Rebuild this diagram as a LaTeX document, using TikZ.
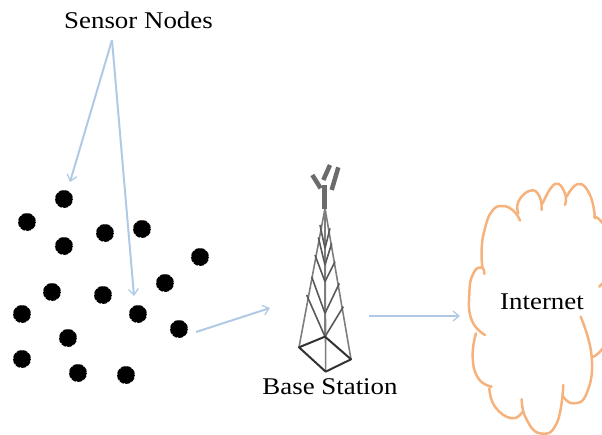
\documentclass[tikz,border=0pt]{standalone}
\usepackage{fontspec}
\setmainfont{Liberation Serif}
\usetikzlibrary{arrows.meta}
\definecolor{lnk}{RGB}{176,202,230}
\definecolor{cld}{RGB}{246,178,124}
\definecolor{twr}{RGB}{70,70,70}
\tikzset{
  x=1pt,y=-1pt,
  sensordot/.style={circle,fill=black,draw=white,line width=0.8pt,dash pattern=on 1.2pt off 5.5pt,inner sep=0pt,minimum size=18pt},
  lnkarrow/.style={draw=lnk,line width=2pt,-{Straight Barb[length=6pt,width=10pt,line width=1.3pt]}},
  lbl/.style={inner sep=0pt,font=\fontsize{24}{26}\selectfont,xscale=1.12},
  cloudline/.style={draw=cld,line width=2.5pt,line cap=round,line join=round,smooth,tension=0.85},
  leg/.style={draw=twr!70,line width=1.6pt},
  brace/.style={draw=twr!90,line width=1.6pt},
  base/.style={draw=black!80,line width=2pt,line join=round},
  ant/.style={draw=twr!80,line width=4.5pt}
}
\begin{document}
\begin{tikzpicture}
\useasboundingbox (0,0) rectangle (602,434);
\clip (0,0) rectangle (602,434);
% sensors
\foreach \n/\p in {a/{64,199},b/{27,222},c/{105,233},d/{142,229},e/{64,246},f/{200,257},g/{165,283},h/{52,292},i/{103,295},j/{22,314},k/{138,314},l/{179,329},m/{68,338},n/{22,359},o/{78,373},q/{126,375}}
  \node[sensordot] (s\n) at (\p) {};
\node[lbl] (sn) at (138.5,20) {Sensor Nodes};
\node[lbl] (bs) at (330,387) {Base Station};
\node[lbl] (inet) at (542,302) {Internet};
\coordinate (fan) at (112,40);
\coordinate (e1) at (70,182);
\coordinate (e2) at (134,296);
\coordinate (f1) at (196,332);
\coordinate (e3) at (270,308);
\coordinate (f2) at (369,316);
\coordinate (e4) at (460,316);
\draw[lnkarrow] (fan) -- (e1);
\draw[lnkarrow] (fan) -- (e2);
\draw[lnkarrow] (f1) -- (e3);
\draw[lnkarrow] (f2) -- (e4);
% tower (zoom coordinates)
\begin{scope}[shift={(280,150)},x=0.3333pt,y=-0.3333pt]
  \coordinate (L) at (57,592); \coordinate (B) at (135,560);
  \coordinate (R) at (213,628); \coordinate (F) at (137,665);
  \coordinate (T) at (135,175);
  \draw[leg] (L) -- (T) -- (R);
  \draw[leg] (F) -- (T);
  \draw[leg] (B) -- (T);
  \foreach \a/\b/\c/\d in {80/435/135/560,95/380/135/490,105/315/135/395,115/262/135/345,120/225/135/295,190/470/135/560,178/400/135/490,165/335/135/395,155/280/135/345,150/235/135/295}
    \draw[brace] (\a,\b) -- (\c,\d);
  \draw[ant,line width=5pt] (135,105) -- (135,178);
  \draw[ant] (97,75) -- (122,115);
  \draw[ant] (150,45) -- (130,90);
  \draw[ant] (175,52) -- (155,120);
  \draw[base] (L) -- (B) -- (R) -- (F) -- cycle;
\end{scope}
% cloud (zoom coordinates)
\begin{scope}[shift={(450,170)},x=0.3333pt,y=-0.3333pt]
  \draw[cloudline] plot coordinates {(210,152) (190,122) (155,108) (125,125) (105,175) (95,235) (97,290)};
  \draw[cloudline] plot coordinates {(103,312) (95,292) (70,310) (58,370) (65,450) (105,495)};
  \draw[cloudline] plot coordinates {(78,490) (68,560) (85,625) (125,650)};
  \draw[cloudline] plot coordinates {(118,655) (135,710) (185,745) (218,725)};
  \draw[cloudline] plot coordinates {(215,688) (228,745) (270,790) (320,760) (340,645)};
  \draw[cloudline] plot coordinates {(340,680) (370,700) (410,670) (425,560) (392,440)};
  \draw[cloudline] plot coordinates {(425,562) (445,550) (470,520)};
  \draw[cloudline] plot coordinates {(448,350) (456,342) (470,330)};
  \draw[cloudline] plot coordinates {(205,130) (205,95) (240,62) (268,78) (275,120)};
  \draw[cloudline] plot coordinates {(278,100) (315,42) (345,70) (345,105)};
  \draw[cloudline] plot coordinates {(350,80) (385,42) (420,75) (435,145)};
  \draw[cloudline] plot coordinates {(432,140) (450,150) (470,180)};
\end{scope}
\end{tikzpicture}
\end{document}
